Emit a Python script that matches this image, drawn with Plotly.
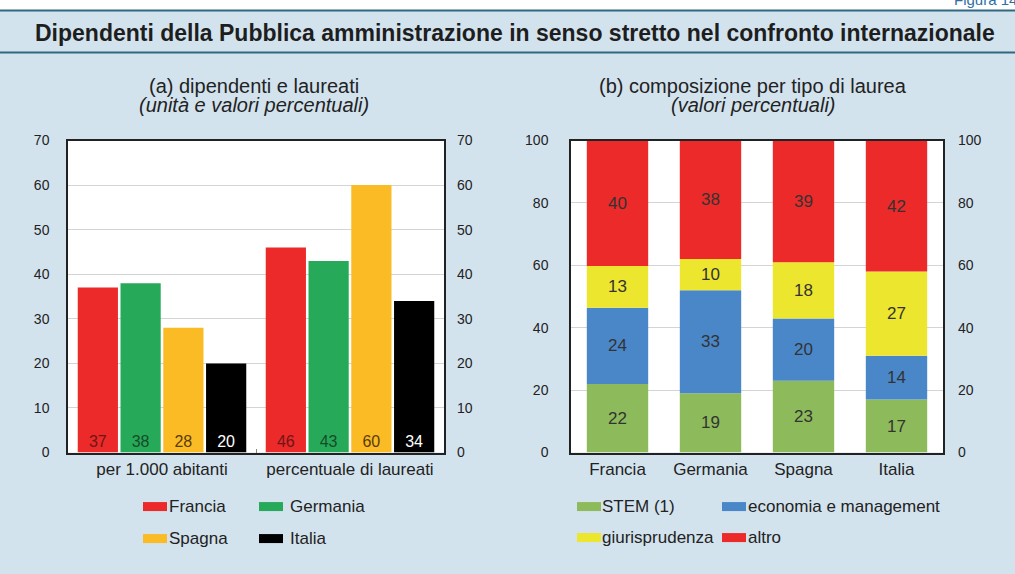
import plotly.graph_objects as go

# ---- data ----
groups = ["per 1.000 abitanti", "percentuale di laureati"]
countries = ["Francia", "Germania", "Spagna", "Italia"]
country_vals = {
    "Francia": [37, 46],
    "Germania": [38, 43],
    "Spagna": [28, 60],
    "Italia": [20, 34],
}
country_colors = ["#ec2a2a", "#27a95a", "#fbbb25", "#000000"]
country_text = ["#6e1616", "#154d26", "#5a3c0c", "#ffffff"]

degree_types = ["STEM (1)", "economia e management", "giurisprudenza", "altro"]
degree_vals = {
    "STEM (1)": [22, 19, 23, 17],
    "economia e management": [24.4, 33, 20, 14],
    "giurisprudenza": [13.4, 10, 18, 27],
    "altro": [40.2, 38, 39, 42],
}
degree_colors = ["#8dbb5b", "#4a87c9", "#ece62e", "#ec2a2a"]

W, H = 1015, 574
FONT = "Liberation Sans, Arial, sans-serif"
BG = "#d3e3ee"

# the photographed page comes out slightly squeezed vertically, so
# target pixel rows are mapped back before placing things
Y_OFF, Y_SCALE = 7.5, 0.972


def px_x(x):
    return x / W


def px_y(y):
    return 1 - ((y - Y_OFF) / Y_SCALE) / H


fig = go.Figure()

# (a) grouped bars
for name, col, tcol in zip(countries, country_colors, country_text):
    fig.add_trace(go.Bar(
        x=groups, y=country_vals[name], name=name, offsetgroup=name,
        marker=dict(color=col, line=dict(width=0)),
        text=country_vals[name], textposition="inside",
        insidetextanchor="start", constraintext="none",
        textfont=dict(color=tcol, size=16, family=FONT),
        xaxis="x", yaxis="y", showlegend=False,
    ))
# invisible trace so the right-hand axis of (a) gets drawn
fig.add_trace(go.Scatter(x=groups, y=country_vals["Francia"], mode="none",
                         xaxis="x", yaxis="y2", showlegend=False, hoverinfo="skip"))

# (b) stacked bars
for name, col in zip(degree_types, degree_colors):
    fig.add_trace(go.Bar(
        x=countries, y=degree_vals[name], name=name, offsetgroup="stack",
        marker=dict(color=col, line=dict(width=0)),
        texttemplate="%{y:.0f}", textposition="inside",
        insidetextanchor="middle", constraintext="none",
        textfont=dict(color="#333333", size=17, family=FONT),
        xaxis="x2", yaxis="y3", showlegend=False, width=0.66,
    ))
fig.add_trace(go.Scatter(x=countries, y=degree_vals["altro"], mode="none",
                         xaxis="x2", yaxis="y4", showlegend=False, hoverinfo="skip"))

ydom = [px_y(452), px_y(140)]
tickfont = dict(size=14, color="#222222", family=FONT)
catfont = dict(size=17, color="#222222", family=FONT)
frame = dict(showline=True, mirror=True, linecolor="#222222", linewidth=1.5)

fig.update_layout(
    width=W, height=H,
    margin=dict(l=0, r=0, t=0, b=0),
    paper_bgcolor=BG, plot_bgcolor="white",
    font=dict(family=FONT, color="#222222"),
    barmode="relative", bargap=0.09, bargroupgap=0.06,
    xaxis=dict(domain=[px_x(68), px_x(444)], anchor="y", **frame,
               ticks="inside", tickson="boundaries", ticklen=4, tickcolor="#888888",
               tickfont=catfont),
    yaxis=dict(domain=ydom, anchor="x", range=[0, 70], dtick=10,
               showgrid=True, gridcolor="#d4d4d4", zeroline=False, **frame,
               ticklabelstandoff=14, tickfont=tickfont),
    yaxis2=dict(domain=ydom, anchor="x", overlaying="y", side="right",
                range=[0, 70], dtick=10, showgrid=False, zeroline=False,
                ticklabelstandoff=12, tickfont=tickfont),
    xaxis2=dict(domain=[px_x(571), px_x(943)], anchor="y3", **frame,
                tickfont=catfont),
    yaxis3=dict(domain=ydom, anchor="x2", range=[0, 100], dtick=20,
                showgrid=True, gridcolor="#d4d4d4", zeroline=False, **frame,
                ticklabelstandoff=18, tickfont=tickfont),
    yaxis4=dict(domain=ydom, anchor="x2", overlaying="y3", side="right",
                range=[0, 100], dtick=20, showgrid=False, zeroline=False,
                ticklabelstandoff=14, tickfont=tickfont),
)

shapes = [
    dict(type="rect", xref="paper", yref="paper", x0=0, x1=1,
         y0=px_y(10), y1=1.05, fillcolor="white", line=dict(width=0)),
    dict(type="line", xref="paper", yref="paper", x0=0, x1=1,
         y0=px_y(10), y1=px_y(10), line=dict(color="#2f6880", width=2)),
    dict(type="line", xref="paper", yref="paper", x0=0, x1=1,
         y0=px_y(52), y1=px_y(52), line=dict(color="#2f6880", width=2)),
]


def note(text, x, y, size=16, xanchor="center", color="#222222"):
    return dict(text=text, xref="paper", yref="paper", x=px_x(x), y=px_y(y),
                xanchor=xanchor, yanchor="middle", showarrow=False,
                font=dict(size=size, color=color, family=FONT))


annotations = [
    note("Figura 14.", 1024, -1, size=15, xanchor="right", color="#2d6fa3"),
    note("<b>Dipendenti della Pubblica amministrazione in senso stretto nel confronto internazionale</b>",
         515, 32, size=23, color="#1e1e1e"),
    note("(a) dipendenti e laureati", 254, 85, size=20),
    note("<i>(unità e valori percentuali)</i>", 254, 104, size=20),
    note("(b) composizione per tipo di laurea", 753, 85, size=20),
    note("<i>(valori percentuali)</i>", 753, 104, size=20),
]


def legend_items(names, colors, x_cols, y_rows, text_x):
    for i, (name, col) in enumerate(zip(names, colors)):
        x0 = x_cols[i % 2]
        yc = y_rows[i // 2]
        shapes.append(dict(type="rect", xref="paper", yref="paper",
                           x0=px_x(x0), x1=px_x(x0 + 24),
                           y0=px_y(yc + 4.5), y1=px_y(yc - 4.5),
                           fillcolor=col, line=dict(width=0)))
        annotations.append(note(name, text_x[i % 2], yc, size=17, xanchor="left"))


legend_items(countries, country_colors, [143, 259], [506, 538], [167, 288])
legend_items(degree_types, degree_colors, [577, 722], [506, 537], [600, 746])

fig.update_layout(shapes=shapes, annotations=annotations)

fig.write_html("out.html", config={"displayModeBar": False},
               post_script="document.body.style.margin='0';")
